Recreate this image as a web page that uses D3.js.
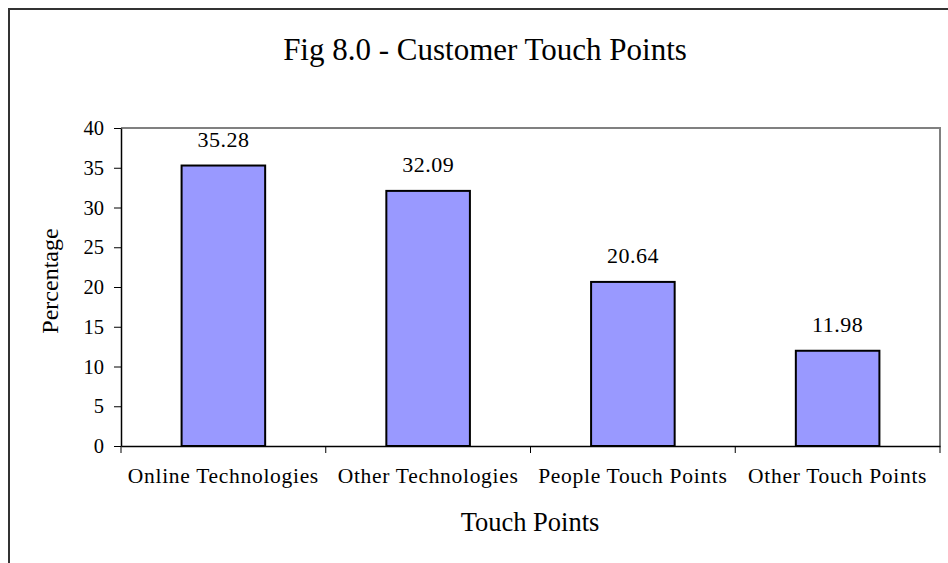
<!DOCTYPE html>
<html>
<head>
<meta charset="utf-8">
<script src="https://cdn.jsdelivr.net/npm/d3@7"></script>
<style>
  body { margin: 0; background: #fff; }
  svg { display: block; font-family: "Liberation Serif", "Times New Roman", serif; }
</style>
</head>
<body>
<svg id="chart" width="948" height="563"></svg>
<script>
const categories = ["Online Technologies", "Other Technologies", "People Touch Points", "Other Touch Points"];
const values = [35.28, 32.09, 20.64, 11.98];
const yTicks = [0, 5, 10, 15, 20, 25, 30, 35, 40];

const svg = d3.select("#chart");
const plot = { left: 121, right: 940, top: 128, bottom: 446 };

// outer chart frame (runs off the right and bottom of the picture)
svg.append("rect")
  .attr("x", 9).attr("y", 9)
  .attr("width", 960).attr("height", 580)
  .attr("fill", "none")
  .attr("stroke", "#333")
  .attr("stroke-width", 2);

const x = d3.scaleBand().domain(categories).range([plot.left, plot.right]).paddingInner(0).paddingOuter(0);
const y = d3.scaleLinear().domain([0, 40]).range([plot.bottom, plot.top]);

// plot area border (top and right in grey)
svg.append("path")
  .attr("d", `M${plot.left},${plot.top}H${plot.right}V${plot.bottom}`)
  .attr("fill", "none")
  .attr("stroke", "#808080")
  .attr("stroke-width", 2);

const barW = x.bandwidth() / 2.45;

svg.append("g")
  .selectAll("rect")
  .data(values)
  .join("rect")
  .attr("x", (d, i) => x(categories[i]) + (x.bandwidth() - barW) / 2)
  .attr("y", (d) => y(d))
  .attr("width", barW)
  .attr("height", (d) => y(0) - y(d))
  .attr("fill", "#9999ff")
  .attr("stroke", "#000")
  .attr("stroke-width", 2);

svg.append("g")
  .selectAll("text")
  .data(values)
  .join("text")
  .attr("x", (d, i) => x(categories[i]) + x.bandwidth() / 2)
  .attr("y", (d) => y(d) - 19)
  .attr("text-anchor", "middle")
  .attr("font-size", 22)
  .attr("letter-spacing", "0.5px")
  .text((d) => d.toFixed(2));

// y axis
const yAxis = svg.append("g")
  .attr("transform", `translate(${plot.left},0)`)
  .call(d3.axisLeft(y).tickValues(yTicks).tickSize(7).tickSizeOuter(0).tickPadding(10));
yAxis.select(".domain").attr("stroke", "#000").attr("stroke-width", 1.5);
yAxis.selectAll(".tick line").attr("stroke", "#000");
yAxis.selectAll(".tick text")
  .attr("font-size", 20.5)
  .attr("font-family", "Liberation Serif, serif")
  .attr("fill", "#000");

// x axis with ticks at category boundaries
const xAxis = svg.append("g")
  .attr("transform", `translate(0,${plot.bottom})`)
  .call(d3.axisBottom(x).tickSize(0).tickPadding(22));
xAxis.select(".domain").attr("stroke", "#000").attr("stroke-width", 1.5);
xAxis.selectAll(".tick text")
  .attr("font-size", 21.5)
  .attr("font-family", "Liberation Serif, serif")
  .attr("letter-spacing", "0.7px")
  .attr("fill", "#000");
xAxis.selectAll("line.sep")
  .data(categories.map((c) => x(c)).concat([plot.right]))
  .join("line")
  .attr("class", "sep")
  .attr("x1", (d) => d).attr("x2", (d) => d)
  .attr("y1", 0).attr("y2", 7)
  .attr("stroke", "#000");

// titles
svg.append("text")
  .attr("x", 485).attr("y", 60)
  .attr("text-anchor", "middle")
  .attr("font-size", 31)
  .text("Fig 8.0 - Customer Touch Points");

svg.append("text")
  .attr("x", 530).attr("y", 531)
  .attr("text-anchor", "middle")
  .attr("font-size", 26.5)
  .text("Touch Points");

svg.append("text")
  .attr("transform", "translate(58,281) rotate(-90)")
  .attr("text-anchor", "middle")
  .attr("font-size", 24)
  .text("Percentage");
</script>
</body>
</html>
